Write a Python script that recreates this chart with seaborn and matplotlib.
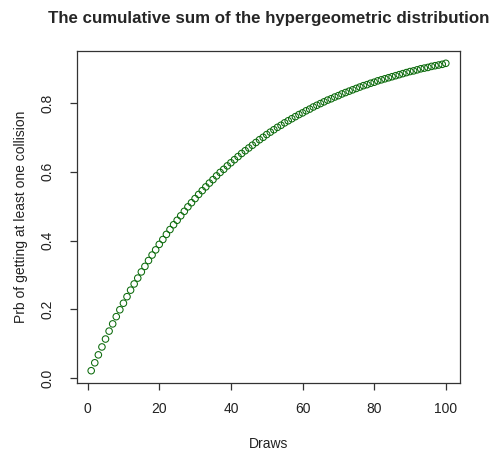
import matplotlib
matplotlib.use("Agg")
import matplotlib.pyplot as plt
import seaborn as sns
import pandas as pd

draws = list(range(1, 101))
prob = [0.022, 0.045, 0.068, 0.091, 0.114, 0.137, 0.158, 0.179, 0.199, 0.218,
        0.237, 0.256, 0.274, 0.291, 0.309, 0.325, 0.342, 0.358, 0.373, 0.389,
        0.403, 0.418, 0.432, 0.446, 0.459, 0.472, 0.485, 0.498, 0.510, 0.522,
        0.534, 0.545, 0.556, 0.567, 0.577, 0.588, 0.598, 0.607, 0.617, 0.626,
        0.635, 0.644, 0.653, 0.661, 0.669, 0.677, 0.685, 0.693, 0.700, 0.708,
        0.715, 0.722, 0.729, 0.735, 0.742, 0.748, 0.754, 0.760, 0.766, 0.771,
        0.777, 0.782, 0.788, 0.793, 0.798, 0.803, 0.808, 0.812, 0.817, 0.821,
        0.826, 0.830, 0.834, 0.838, 0.842, 0.846, 0.850, 0.853, 0.857, 0.860,
        0.864, 0.867, 0.870, 0.873, 0.876, 0.879, 0.882, 0.885, 0.888, 0.891,
        0.893, 0.896, 0.899, 0.901, 0.903, 0.906, 0.908, 0.910, 0.912, 0.915]
x_ticks = [0, 20, 40, 60, 80, 100]
y_ticks = [0.0, 0.2, 0.4, 0.6, 0.8]
y_tick_labels = ["0.0", "0.2", "0.4", "0.6", "0.8"]

sns.set_style("white")
plt.rcParams["font.family"] = ["Liberation Sans", "DejaVu Sans"]

df = pd.DataFrame({"Draws": draws, "Prb": prob})

fig = plt.figure(figsize=(4.92, 4.51), dpi=100)
ax = fig.add_axes([77 / 492, 1 - 383 / 451, (460 - 77) / 492, (383 - 51) / 451])

sns.scatterplot(data=df, x="Draws", y="Prb", ax=ax, marker="o",
                facecolor="none", edgecolor="#0b6a0b", s=22, linewidth=0.75)

xr = (max(draws) - min(draws)) * 0.04
ax.set_xlim(min(draws) - xr, max(draws) + xr)
yr = (max(prob) - min(prob)) * 0.04
ax.set_ylim(min(prob) - yr, max(prob) + yr)

ax.set_xticks(x_ticks)
ax.set_xticklabels([str(t) for t in x_ticks])
ax.set_yticks(y_ticks)
ax.set_yticklabels(y_tick_labels, rotation=90, va="center")

for s in ax.spines.values():
    s.set_visible(True)
    s.set_color("#333333")
    s.set_linewidth(0.9)

ax.tick_params(axis="both", which="major", direction="out", length=5,
               width=0.9, color="#333333", labelsize=10, labelcolor="#222222",
               bottom=True, left=True)
ax.tick_params(axis="x", pad=9)
ax.tick_params(axis="y", pad=11)

ax.set_xlabel("Draws", fontsize=10, color="#222222", labelpad=15)
ax.set_ylabel("Prb of getting at least one collision", fontsize=10,
              color="#222222", labelpad=9)
ax.set_title("The cumulative sum of the hypergeometric distribution",
             fontsize=12.2, fontweight="bold", pad=20)

fig.savefig("out.png", dpi=100)
